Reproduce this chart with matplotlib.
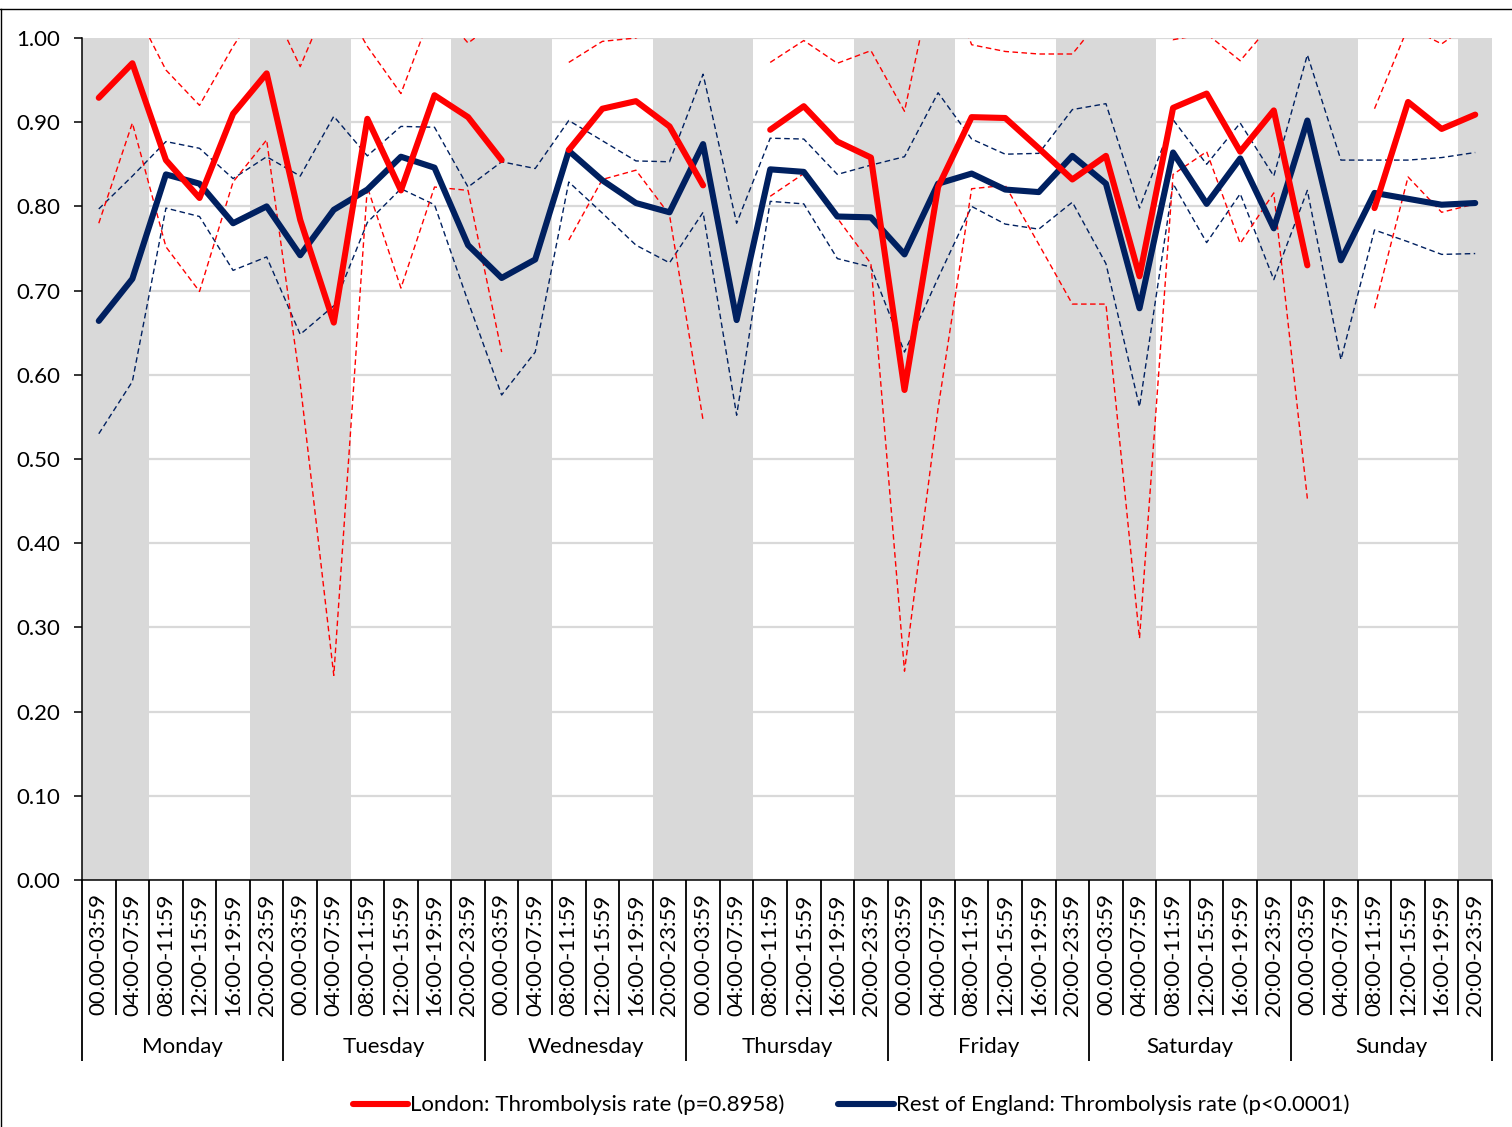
import numpy as np
import matplotlib.pyplot as plt
import matplotlib.transforms as mtransforms
from matplotlib.lines import Line2D

plt.rcParams['font.family'] = ['Lato', 'DejaVu Sans']

nan = np.nan

days = ['Monday', 'Tuesday', 'Wednesday', 'Thursday', 'Friday', 'Saturday', 'Sunday']
slots = ['00.00-03:59', '04:00-07:59', '08:00-11:59', '12:00-15:59', '16:00-19:59', '20:00-23:59']

# London thrombolysis rate + 95% CI (values above 1 get clipped by the axis)
london = [0.929, 0.970, 0.855, 0.810, 0.910, 0.958,
          0.784, 0.662, 0.904, 0.819, 0.932, 0.906,
          0.855, nan, 0.867, 0.916, 0.925, 0.895,
          0.825, nan, 0.891, 0.919, 0.877, 0.858,
          0.582, 0.823, 0.906, 0.905, 0.869, 0.832,
          0.860, 0.717, 0.917, 0.934, 0.865, 0.914,
          0.730, nan, 0.798, 0.924, 0.892, 0.909]
london_hi = [1.03, 1.04, 0.962, 0.920, 0.990, 1.05,
             0.966, 1.06, 0.990, 0.934, 1.04, 0.994,
             1.024, nan, 0.971, 0.996, 1.0, 1.02,
             1.03, nan, 0.971, 0.997, 0.970, 0.985,
             0.913, 1.10, 0.992, 0.984, 0.981, 0.981,
             1.03, 1.03, 0.998, 1.005, 0.973, 1.02,
             1.03, nan, 0.916, 1.013, 0.993, 1.021]
london_lo = [0.780, 0.899, 0.752, 0.699, 0.829, 0.879,
             0.590, 0.243, 0.823, 0.703, 0.823, 0.819,
             0.627, nan, 0.760, 0.832, 0.843, 0.790,
             0.546, nan, 0.812, 0.839, 0.786, 0.732,
             0.248, 0.560, 0.821, 0.825, 0.755, 0.684,
             0.684, 0.287, 0.838, 0.865, 0.756, 0.816,
             0.453, nan, 0.679, 0.835, 0.793, 0.803]

# Rest of England
roe = [0.664, 0.714, 0.838, 0.827, 0.780, 0.800,
       0.742, 0.796, 0.820, 0.859, 0.846, 0.754,
       0.715, 0.737, 0.866, 0.831, 0.804, 0.793,
       0.874, 0.665, 0.844, 0.841, 0.788, 0.787,
       0.743, 0.827, 0.839, 0.820, 0.817, 0.860,
       0.827, 0.679, 0.864, 0.803, 0.857, 0.774,
       0.902, 0.736, 0.816, 0.809, 0.802, 0.804]
roe_hi = [0.797, 0.836, 0.877, 0.869, 0.833, 0.859,
          0.836, 0.907, 0.860, 0.895, 0.894, 0.823,
          0.853, 0.845, 0.902, 0.878, 0.854, 0.853,
          0.957, 0.780, 0.881, 0.880, 0.838, 0.849,
          0.859, 0.935, 0.880, 0.862, 0.863, 0.915,
          0.922, 0.798, 0.903, 0.850, 0.899, 0.836,
          0.980, 0.855, 0.855, 0.855, 0.858, 0.864]
roe_lo = [0.530, 0.592, 0.798, 0.788, 0.724, 0.740,
          0.648, 0.682, 0.781, 0.821, 0.802, 0.687,
          0.576, 0.627, 0.829, 0.792, 0.754, 0.733,
          0.793, 0.552, 0.806, 0.803, 0.738, 0.728,
          0.627, 0.715, 0.800, 0.779, 0.773, 0.805,
          0.732, 0.562, 0.827, 0.757, 0.815, 0.713,
          0.819, 0.618, 0.772, 0.758, 0.743, 0.744]

red = '#ff0000'
navy = '#002060'
band = '#d9d9d9'
fs = 16

fig = plt.figure(figsize=(15.12, 11.27), dpi=100)
ax = fig.add_axes([82/1512, 1-880/1127, 1410/1512, 842/1127])

x = np.arange(len(london))
n = len(x)

# night shading (20:00 - 07:59)
for d in range(len(days) + 1):
    ax.axvspan(6*d - 1.5, 6*d + 1.5, color=band, lw=0, zorder=0)

dash = (0, (4, 2.5))
ax.plot(x, roe_hi, color=navy, lw=1.0, ls=dash, zorder=2)
ax.plot(x, roe_lo, color=navy, lw=1.0, ls=dash, zorder=2)
ax.plot(x, london_hi, color=red, lw=1.0, ls=dash, zorder=2)
ax.plot(x, london_lo, color=red, lw=1.0, ls=dash, zorder=2)
l2, = ax.plot(x, roe, color=navy, lw=4.4, solid_capstyle='round',
              solid_joinstyle='round', zorder=3,
              label='Rest of England: Thrombolysis rate (p<0.0001)')
l1, = ax.plot(x, london, color=red, lw=4.4, solid_capstyle='round',
              solid_joinstyle='round', zorder=4,
              label='London: Thrombolysis rate (p=0.8958)')

ax.set_xlim(-0.5, n - 0.5)
ax.set_ylim(0, 1)
ax.set_yticks(np.arange(0, 1.01, 0.1))
ax.set_yticklabels(['%.2f' % v for v in np.arange(0, 1.01, 0.1)], fontsize=fs)
ax.yaxis.grid(True, color=band, lw=1.6)
ax.set_axisbelow(True)

for s in ['top', 'right']:
    ax.spines[s].set_visible(False)
for s in ['left', 'bottom']:
    ax.spines[s].set_color('black')
    ax.spines[s].set_linewidth(1.1)

ax.tick_params(axis='y', direction='out', length=5.8, width=1.1, pad=10)

# multi-level category axis
ax.set_xticks(np.arange(-0.5, n, 6))
ax.set_xticks(np.arange(-0.5, n, 1), minor=True)
ax.tick_params(axis='x', which='major', direction='out', length=130, width=1.3, labelbottom=False)
ax.tick_params(axis='x', which='minor', direction='out', length=97, width=1.3, labelbottom=False)

trans = mtransforms.blended_transform_factory(ax.transData, ax.transAxes)
for i in x:
    ax.text(i, -0.016, slots[i % 6], rotation=90, ha='center', va='top',
            fontsize=fs, transform=trans)
for d, name in enumerate(days):
    ax.text(6*d + 2.5, -0.198, name, ha='center', va='center',
            fontsize=fs, transform=trans)

fig.legend(handles=[l1, l2], loc='center', bbox_to_anchor=(851/1512, 1-1105/1127),
           ncol=2, frameon=False, fontsize=fs, handlelength=2.5,
           handletextpad=0.1, columnspacing=2.4)

# chart border
fig.add_artist(Line2D([0.0007, 0.0007], [0, 1-9/1127], color='black', lw=1.0))
fig.add_artist(Line2D([0, 1], [1-9/1127, 1-9/1127], color='black', lw=1.0))

fig.savefig('out.png', dpi=100)
